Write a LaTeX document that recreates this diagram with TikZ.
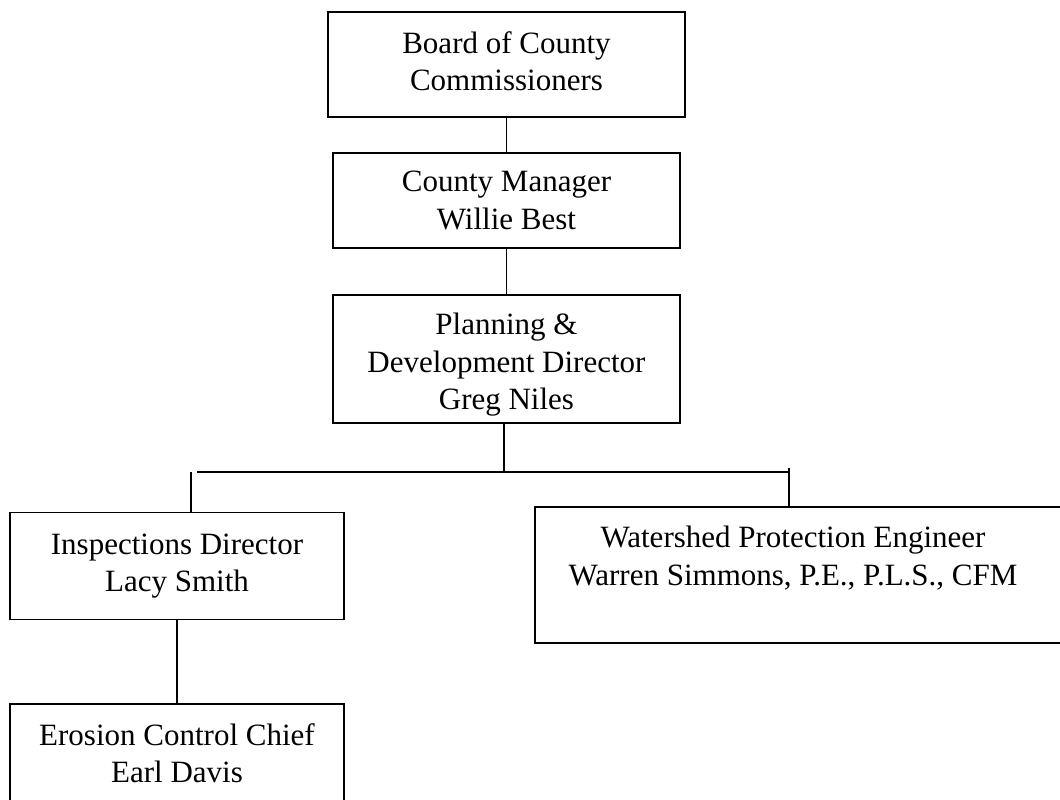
\documentclass[tikz,border=0pt]{standalone}
\usepackage{fontspec}
\setmainfont{Liberation Serif}
\begin{document}
\begin{tikzpicture}[x=1pt,y=-1pt,
  box/.style={draw=black, line width=1.6pt, rectangle, inner sep=0pt, align=center, font=\fontsize{31}{37.5}\selectfont},
  txt/.style={inner sep=0pt, align=center, font=\fontsize{31}{37.5}\selectfont},
  conn/.style={draw=black, line width=1.6pt}]
\useasboundingbox (0,0) rectangle (1060,800);
\clip (0,0) rectangle (1060,800);
\fill[white] (0,0) rectangle (1060,800);
\node[box, minimum width=357pt, minimum height=105pt] (board) at (506.5,64.5) {};
\node[txt] (boardT) at (506.5,61) {Board of County\\Commissioners};
\node[box, minimum width=347pt, minimum height=95pt] (mgr) at (506.5,200.5) {County Manager\\Willie Best};
\node[box, minimum width=347pt, minimum height=128pt] (plan) at (506.5,359) {};
\node[txt] (planT) at (506.5,365) {Planning \&\\Development Director\\Greg Niles};
\node[box, minimum width=334pt, minimum height=107pt] (insp) at (177,566) {Inspections Director\\Lacy Smith};
\node[box, minimum width=334pt, minimum height=98pt] (eros) at (177,753) {Erosion Control Chief\\Earl Davis};
\node[box, minimum width=535pt, minimum height=136pt] (ws) at (802.5,575) {};
\node[txt] (wsT) at (793,558) {Watershed Protection Engineer\\Warren Simmons, P.E., P.L.S., CFM};
\coordinate (busC) at (504,472);
\coordinate (busL) at (197,472);
\coordinate (busR) at (789,472);
\coordinate (dropL) at (191,472);
\coordinate (tickR) at (789,468);
\draw[conn] (board.south) -- (mgr.north);
\draw[conn] (mgr.south) -- (plan.north);
\draw[conn] (plan.south -| busC) -- (busC);
\draw[conn] (busL) -- (busR);
\draw[conn] (dropL) -- (insp.north -| dropL);
\draw[conn] (tickR) -- (ws.north -| tickR);
\draw[conn] (insp.south) -- (eros.north);
\end{tikzpicture}
\end{document}
